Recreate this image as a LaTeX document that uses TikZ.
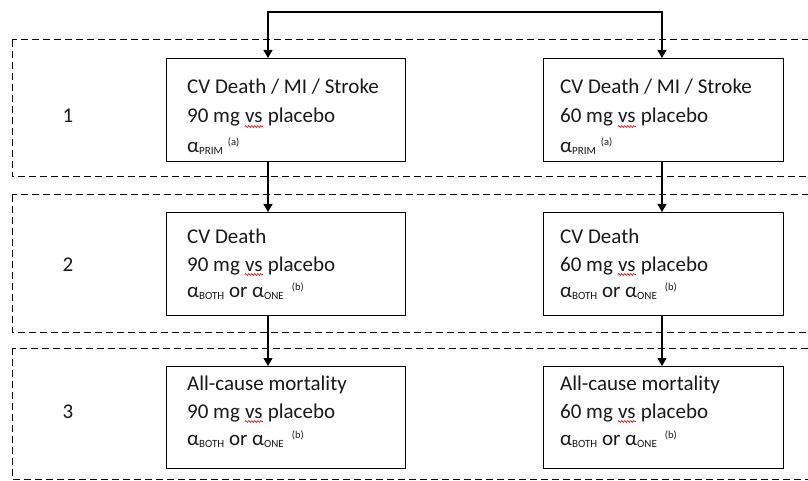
\documentclass[tikz,border=0pt]{standalone}
\usepackage{fontspec}
\setmainfont{Carlito}
\usetikzlibrary{arrows.meta,decorations.pathmorphing}
\newcommand{\myal}{α}
\newcommand{\mysb}[1]{\raisebox{-2pt}{\fontsize{11}{11}\selectfont #1}}
\newcommand{\mysp}[1]{\raisebox{7pt}{\fontsize{10.5}{10.5}\selectfont #1}}
\tikzset{
  stepbox/.style={draw=black, line width=1.3pt, inner sep=0pt},
  txt/.style={anchor=base west, inner sep=0pt, font=\fontsize{21}{21}\selectfont, text=black!90},
  lbl/.style={anchor=base, inner sep=0pt, font=\fontsize{21}{21}\selectfont, text=black!90},
  zone/.style={draw=black, line width=1pt, dash pattern=on 7pt off 4pt},
  arr/.style={line width=1.2pt, -{Triangle[width=9pt,length=8pt]}},
  arrb/.style={line width=1.2pt, {Triangle[width=9pt,length=8pt]}-{Triangle[width=9pt,length=8pt]}},
  wave/.style={draw=red!85!black, line width=0.6pt, decorate, decoration={snake, amplitude=0.9pt, segment length=3pt}}
}
\newcommand{\mgline}[4]{%
  \node[txt] (#1a) at (#2,#3) {#4 mg\ \null};
  \node[txt] (#1v) at (#1a.base east) {vs};
  \node[txt] (#1p) at (#1v.base east) {\ \null placebo};
  \draw[wave] ([yshift=-3.5pt]#1v.base west) -- ([yshift=-3.5pt]#1v.base east);
}
\newcommand{\bothone}{\myal\mysb{BOTH} or \myal\mysb{ONE}\hspace{8pt}\mysp{(b)}}
\newcommand{\prim}{\myal\mysb{PRIM}\hspace{5pt}\mysp{(a)}}
\begin{document}
\begin{tikzpicture}[x=1pt,y=-1pt]
\clip (0,0) rectangle (808,481);
\fill[white] (0,0) rectangle (808,481);
% dashed zones
\draw[zone] (12,40) rectangle (818,177);
\draw[zone] (12,195) rectangle (818,332);
\draw[zone] (12,348) rectangle (818,479);
% level labels
\node[lbl] (n1) at (68,123) {1};
\node[lbl] (n2) at (68,271) {2};
\node[lbl] (n3) at (68,418) {3};
% boxes
\node[stepbox, minimum width=239pt, minimum height=103pt, anchor=north west] (b1L) at (166,58) {};
\node[stepbox, minimum width=240pt, minimum height=103pt, anchor=north west] (b1R) at (543,58) {};
\node[stepbox, minimum width=239pt, minimum height=103pt, anchor=north west] (b2L) at (166,212) {};
\node[stepbox, minimum width=240pt, minimum height=103pt, anchor=north west] (b2R) at (543,212) {};
\node[stepbox, minimum width=239pt, minimum height=102pt, anchor=north west] (b3L) at (166,366) {};
\node[stepbox, minimum width=240pt, minimum height=102pt, anchor=north west] (b3R) at (543,366) {};
% texts row 1
\node[txt] (t1La) at (187,94) {CV Death / MI / Stroke};
\mgline{t1Lb}{187}{123}{90}
\node[txt] (t1Lc) at (187,153) {\prim};
\node[txt] (t1Ra) at (560,94) {CV Death / MI / Stroke};
\mgline{t1Rb}{560}{123}{60}
\node[txt] (t1Rc) at (560,153) {\prim};
% texts row 2
\node[txt] (t2La) at (187,243) {CV Death};
\mgline{t2Lb}{187}{271}{90}
\node[txt] (t2Lc) at (187,297) {\bothone};
\node[txt] (t2Ra) at (560,243) {CV Death};
\mgline{t2Rb}{560}{271}{60}
\node[txt] (t2Rc) at (560,297) {\bothone};
% texts row 3
\node[txt] (t3La) at (187,390) {All-cause mortality};
\mgline{t3Lb}{187}{418}{90}
\node[txt] (t3Lc) at (187,445) {\bothone};
\node[txt] (t3Ra) at (560,390) {All-cause mortality};
\mgline{t3Rb}{560}{418}{60}
\node[txt] (t3Rc) at (560,445) {\bothone};
% connectors
\coordinate (xl) at (268,0);
\coordinate (xr) at (662,0);
\coordinate (ytop) at (0,12);
\draw[arrb] (b1L.north -| xl) -- (xl |- ytop) -- (xr |- ytop) -- (b1R.north -| xr);
\draw[arr] (b1L.south -| xl) -- (b2L.north -| xl);
\draw[arr] (b1R.south -| xr) -- (b2R.north -| xr);
\draw[arr] (b2L.south -| xl) -- (b3L.north -| xl);
\draw[arr] (b2R.south -| xr) -- (b3R.north -| xr);
\end{tikzpicture}
\end{document}
